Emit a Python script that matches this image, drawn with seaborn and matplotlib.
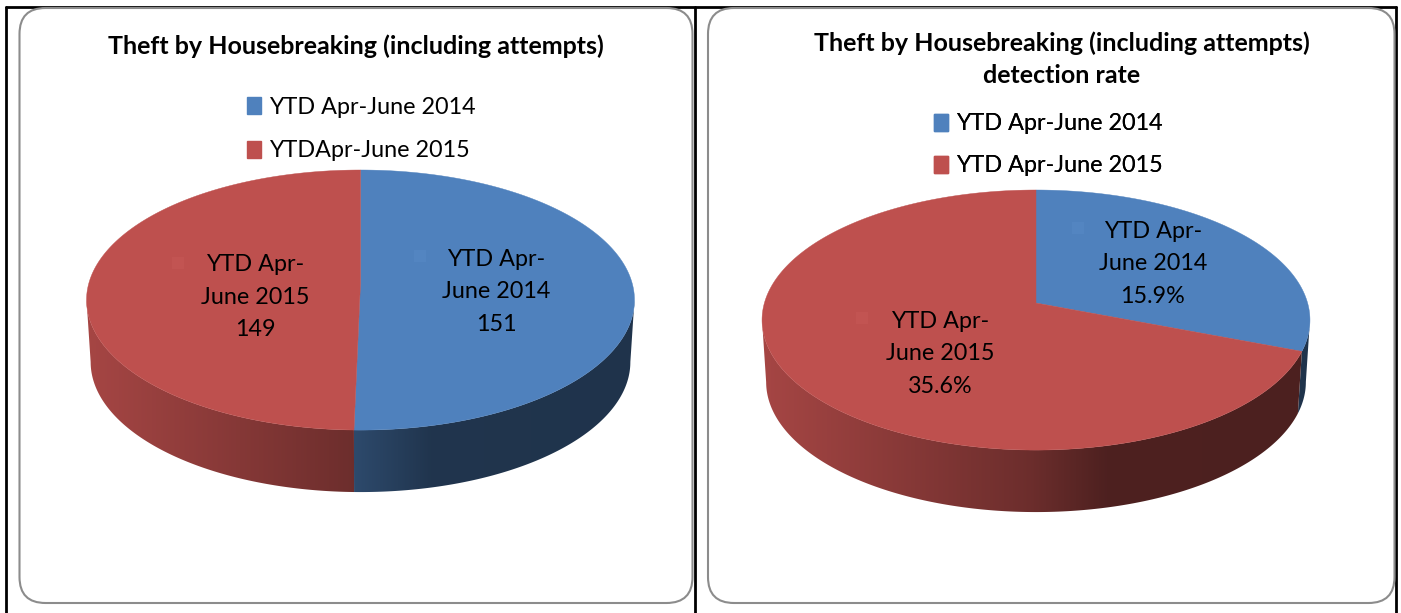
import numpy as np
from matplotlib import pyplot as plt
from matplotlib.patches import FancyBboxPatch, Patch, Polygon
import seaborn as sns

# values
titles = ["Theft by Housebreaking (including attempts)",
          "Theft by Housebreaking (including attempts)\ndetection rate"]
legend_left = ["YTD Apr-June 2014", "YTDApr-June 2015"]
legend_right = ["YTD Apr-June 2014", "YTD Apr-June 2015"]
slice_names = ["YTD Apr-\nJune 2014", "YTD Apr-\nJune 2015"]
counts = [151, 149]
rates = [15.9, 35.6]
count_labels = ["151", "149"]
rate_labels = ["15.9%", "35.6%"]

sns.set_theme(style="white")
plt.rcParams['font.family'] = ['Lato', 'DejaVu Sans']
palette = sns.color_palette(["#4f81bd", "#be504e"])

W, H = 1401, 613
TILT = 0.131      # perspective of the disc
RX, RY = 271.6, 127.8
DEPTH = 62
FS = 16.8
TITLE_FS = 18
PAD = 15          # image is wider than the wall so the clip decides the edge


def project(theta, cx, cy):
    # theta clockwise from 12 o'clock, v points at the viewer
    u, v = np.sin(theta), -np.cos(theta)
    w = 1 - TILT * v
    return cx + RX * u / w, cy + RY * v / w


def side_image(color):
    # side wall darkens from left to right
    t = np.linspace(-PAD, 2 * RX + PAD, 400) / (2 * RX)
    f = np.interp(t, [0, 0.49, 0.63, 1], [0.87, 0.57, 0.41, 0.40])
    return np.outer(f, color)[np.newaxis, :, :]


def pie3d(ax, values, cx, cy):
    edges = 2 * np.pi * np.concatenate([[0], np.cumsum(values)]) / np.sum(values)
    # wall only shows between the two widest points of the disc
    low = np.arccos(-TILT)
    high = 2 * np.pi - low
    for i, color in enumerate(palette):
        a, b = max(edges[i], low), min(edges[i + 1], high)
        if a >= b:
            continue
        x, y = project(np.linspace(a, b, 200), cx, cy)
        x2 = cx + (x - cx) * 0.985
        wall = Polygon(np.c_[np.r_[x, x2[::-1]], np.r_[y, y[::-1] + DEPTH]], transform=ax.transData)
        im = ax.imshow(side_image(color), extent=(cx - RX - PAD, cx + RX + PAD, cy + 260, cy - 150),
                       aspect="auto", interpolation="bilinear", zorder=2)
        im.set_clip_path(wall)
    for i, color in enumerate(palette):
        grid = np.linspace(edges[i], edges[i + 1], 300)
        x, y = project(grid, cx, cy)
        ax.fill(np.r_[cx, x], np.r_[cy, y], color=color, lw=0.3, zorder=3)


fig = plt.figure(figsize=(W / 100, H / 100), dpi=100)
ax = fig.add_axes([0, 0, 1, 1])
ax.axis("off")

# table rules of the page, under the chart areas
ax.plot([6, 6], [7, H], color="black", lw=2, zorder=1)
ax.plot([695, 695], [7, H], color="black", lw=2, zorder=1)
ax.plot([1396, 1396], [7, H], color="black", lw=2, zorder=1)
ax.plot([6, 1396], [7, 7], color="black", lw=2, zorder=1)

# rounded chart areas
for x0, x1 in [(19.5, 692.5), (708, 1394.5)]:
    ax.add_patch(FancyBboxPatch((x0, 8), x1 - x0, 595, boxstyle="round,pad=0,rounding_size=26",
                                fc="white", ec="#8c8c8c", lw=1.5, zorder=1.5))

pie3d(ax, counts, 360.5, 283)
pie3d(ax, rates, 1036, 303)

# faint legend keys inside the data labels
for (x, y), c in zip([(420, 256), (178, 263), (1078, 228), (862, 318)],
                     [palette[0], palette[1], palette[0], palette[1]]):
    ax.plot(x, y, marker="s", ms=9, mew=0, color=tuple(min(1, v + 0.015) for v in c), zorder=4)

# slice labels
for (x, y), name, lab in zip([(496, 292), (255, 297)], slice_names, count_labels):
    ax.text(x, y, name + "\n" + lab, ha="center", va="center", fontsize=FS, color="black",
            linespacing=1.68, zorder=5)
for (x, y), name, lab in zip([(1153, 264), (940, 354)], slice_names, rate_labels):
    ax.text(x, y, name + "\n" + lab, ha="center", va="center", fontsize=FS, color="black",
            linespacing=1.68, zorder=5)

# titles
ax.text(356, 46, titles[0], ha="center", va="center", fontsize=TITLE_FS, fontweight="bold", color="black")
ax.text(1062, 59, titles[1], ha="center", va="center", fontsize=TITLE_FS, fontweight="bold", color="black",
        linespacing=1.5)

ax.set_xlim(0, W)
ax.set_ylim(H, 0)

# legends
for labels, anchor, gap in [(legend_left, (361, 129), 0.98), (legend_right, (1048, 145), 0.9)]:
    handles = [Patch(color=c, label=l) for c, l in zip(palette, labels)]
    leg = ax.legend(handles=handles, loc="center", bbox_to_anchor=anchor,
                    bbox_transform=ax.transData, frameon=False, fontsize=FS,
                    handlelength=0.62, handleheight=0.72, handletextpad=0.32,
                    labelspacing=gap, borderpad=0, borderaxespad=0, labelcolor="black")
    ax.add_artist(leg)

plt.savefig("out.png", dpi=100)
